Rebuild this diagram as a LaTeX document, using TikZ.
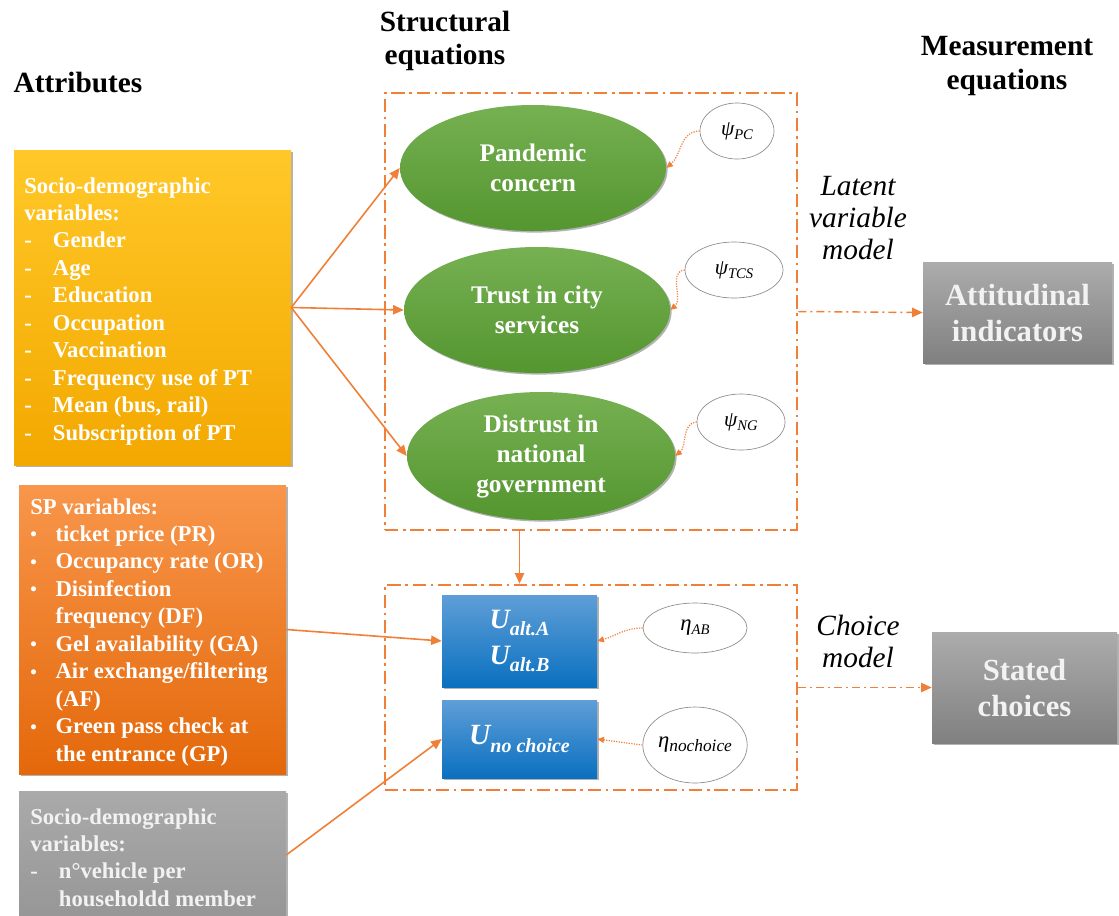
\documentclass[tikz,border=0pt]{standalone}
\usepackage{fontspec}
\setmainfont{Liberation Serif}
\usetikzlibrary{arrows.meta,shapes.geometric,shadows,calc}
\definecolor{lineor}{RGB}{240,128,56}
\definecolor{yeltop}{RGB}{255,200,40}
\definecolor{yelbot}{RGB}{243,168,0}
\definecolor{ortop}{RGB}{248,150,75}
\definecolor{orbot}{RGB}{228,104,10}
\definecolor{grtop}{RGB}{170,170,170}
\definecolor{grbot}{RGB}{150,150,150}
\definecolor{gntop}{RGB}{118,176,82}
\definecolor{gnbot}{RGB}{84,150,48}
\definecolor{bltop}{RGB}{95,158,215}
\definecolor{blbot}{RGB}{10,112,192}
\definecolor{rgtop}{RGB}{172,172,172}
\definecolor{rgbot}{RGB}{128,128,128}
\definecolor{softwhite}{RGB}{242,242,242}
\newcommand\dashitem[1]{\makebox[21.5pt][l]{-}#1}
\newcommand\bulitem[1]{\makebox[19pt][l]{\raisebox{0.5pt}{\fontsize{14}{14}\selectfont •}}#1}
\newcommand\lowsub[2]{\raisebox{-#1}{\fontsize{11}{11}\selectfont\itshape #2}}
\newcommand\usub[1]{\raisebox{-5pt}{\fontsize{15}{15}\selectfont #1}}
\begin{document}
\begin{tikzpicture}[x=0.75pt,y=-0.75pt,
  shadowed/.style={drop shadow={shadow xshift=1.2pt,shadow yshift=-1.2pt,opacity=0.3,fill=black}},
  leftbox/.style={rectangle,draw=none,inner sep=0,shadowed},
  boxtext/.style={anchor=north west,inner sep=0,align=left,text=white,font=\fontsize{17}{20.6}\selectfont\bfseries},
  title/.style={align=center,inner sep=0,font=\fontsize{22}{25}\selectfont\bfseries},
  italab/.style={align=center,inner sep=0,font=\fontsize{22}{24}\selectfont\itshape},
  dashbox/.style={rectangle,draw=lineor,line width=2pt,dash pattern=on 10pt off 3.5pt on 2pt off 3.5pt,inner sep=0},
  latent/.style={ellipse,draw=none,inner sep=0,top color=gntop,bottom color=gnbot,shadowed,align=center,text=white,font=\fontsize{19}{22.5}\selectfont\bfseries},
  errell/.style={ellipse,draw=black!45,line width=0.5pt,fill=white,inner sep=0},
  utilbox/.style={rectangle,draw=none,inner sep=0,top color=bltop,bottom color=blbot,shadowed,align=center,text=white},
  rightbox/.style={rectangle,draw=none,inner sep=0,top color=rgtop,bottom color=rgbot,shadowed,align=center,text=softwhite,font=\fontsize{23}{27}\selectfont\bfseries},
  mainarrow/.style={draw=lineor,line width=1.2pt,-{Triangle[length=8pt,width=7pt]}},
  errarrow/.style={draw=lineor,line width=0.9pt,densely dotted,-{Triangle[length=5pt,width=4.5pt]}},
  measarrow/.style={draw=lineor,line width=1.1pt,dash pattern=on 6pt off 3pt on 1.5pt off 3pt,-{Triangle[length=8pt,width=7pt]}}
]
\clip (0,0) rectangle (1119,915);
\fill[white] (0,0) rectangle (1119,915);

% titles
\node[title] (tattr) at (78,82) {Attributes};
\node[title] (tstruct) at (445,41) {Structural\\equations};
\node[title] (tmeas) at (1007,66) {Measurement\\equations};

% left boxes
\node[leftbox,top color=yeltop,bottom color=yelbot,minimum width=207.75pt,minimum height=236.25pt] (yb) at (152.5,307.5) {};
\node[boxtext] (ybt) at (24,177) {Socio-demographic\\variables:\\\dashitem{Gender}\\\dashitem{Age}\\\dashitem{Education}\\\dashitem{Occupation}\\\dashitem{Vaccination}\\\dashitem{Frequency use of PT}\\\dashitem{Mean (bus, rail)}\\\dashitem{Subscription of PT}};

\node[leftbox,top color=ortop,bottom color=orbot,minimum width=200.25pt,minimum height=216.75pt] (sp) at (152.5,629.5) {};
\node[boxtext] (spt) at (30,498) {SP variables:\\\bulitem{ticket price (PR)}\\\bulitem{Occupancy rate (OR)}\\\bulitem{Disinfection}\\\hspace*{19pt}frequency (DF)\\\bulitem{Gel availability (GA)}\\\bulitem{Air exchange/filtering}\\\hspace*{19pt}(AF)\\\bulitem{Green pass check at}\\\hspace*{19pt}the entrance (GP)};

\node[leftbox,top color=grtop,bottom color=grbot,minimum width=200.25pt,minimum height=96pt] (gb) at (152.5,855) {};
\node[boxtext,text=softwhite] (gbt) at (30,808) {Socio-demographic\\variables:\\\dashitem{n°vehicle per}\\\hspace*{21.5pt}householdd member};

% dash-dot frames
\node[dashbox,minimum width=309pt,minimum height=327.75pt] (upbox) at (591,311.5) {};
\node[dashbox,minimum width=309pt,minimum height=153.75pt] (lowbox) at (591,687.5) {};

% latent variables
\node[latent,minimum width=199.5pt,minimum height=94.5pt] (pc) at (533,168) {Pandemic\\concern};
\node[latent,minimum width=199.5pt,minimum height=94.5pt] (tcs) at (537,310) {Trust in city\\services};
\node[latent,minimum width=201pt,minimum height=96pt] (ng) at (541,456) {Distrust in\\national\\government};

\node[errell,minimum width=55.5pt,minimum height=42pt] (psipc) at (737,131) {\fontsize{16}{16}\selectfont\itshape ψ\lowsub{3pt}{PC}};
\node[errell,minimum width=73.5pt,minimum height=42pt] (psitcs) at (734,270) {\fontsize{16}{16}\selectfont\itshape ψ\lowsub{3pt}{TCS}};
\node[errell,minimum width=66pt,minimum height=42pt] (psing) at (741,422) {\fontsize{16}{16}\selectfont\itshape ψ\lowsub{3pt}{NG}};

% utilities
\node[utilbox,minimum width=116.25pt,minimum height=69pt,font=\fontsize{21}{27}\selectfont\bfseries\itshape] (uab) at (519.5,641) {U\usub{alt.A}\\U\usub{alt.B}};
\node[utilbox,minimum width=116.25pt,minimum height=58.5pt,font=\fontsize{22}{26}\selectfont\bfseries\itshape] (unc) at (519.5,739) {U\raisebox{-6pt}{\fontsize{15}{15}\selectfont no choice}};

\node[errell,minimum width=78pt,minimum height=37.5pt] (etaab) at (695,628) {\fontsize{17}{17}\selectfont\itshape η\lowsub{3pt}{AB}};
\node[errell,minimum width=70.5pt,minimum height=57pt] (etanc) at (695,745) {\fontsize{17}{17}\selectfont\itshape η\raisebox{-3pt}{\fontsize{13}{13}\selectfont nochoice}};

% right boxes
\node[rightbox,minimum width=141.75pt,minimum height=75.75pt] (att) at (1017.5,312.5) {Attitudinal\\indicators};
\node[rightbox,minimum width=138.75pt,minimum height=83.25pt] (stc) at (1024.5,687.5) {Stated\\choices};

% model labels
\node[italab] (lvm) at (858,218) {Latent\\variable\\model};
\node[italab] (chm) at (858,641) {Choice\\model};

% connectors
\draw[mainarrow] (yb.east) -- (pc.west);
\draw[mainarrow] (yb.east) -- (tcs.west);
\draw[mainarrow] (yb.east) -- (ng.west);
\draw[mainarrow] (sp.east) -- (uab.west);
\draw[mainarrow] (gb.east) -- (unc.west);
\draw[mainarrow] (upbox.south -| uab) -- (lowbox.north -| uab);

\draw[errarrow] (psipc.west) to[out=180,in=40] (pc.east);
\draw[errarrow] (psitcs.west) to[out=185,in=40] (tcs.east);
\draw[errarrow] (psing.west) to[out=185,in=40] (ng.east);
\draw[errarrow] (etaab.west) to[out=180,in=15] (uab.east);
\draw[errarrow] (etanc.west) -- (unc.east);

\draw[measarrow] (upbox.east) -- (att.west);
\draw[measarrow] (lowbox.east) -- (stc.west);
\end{tikzpicture}
\end{document}
